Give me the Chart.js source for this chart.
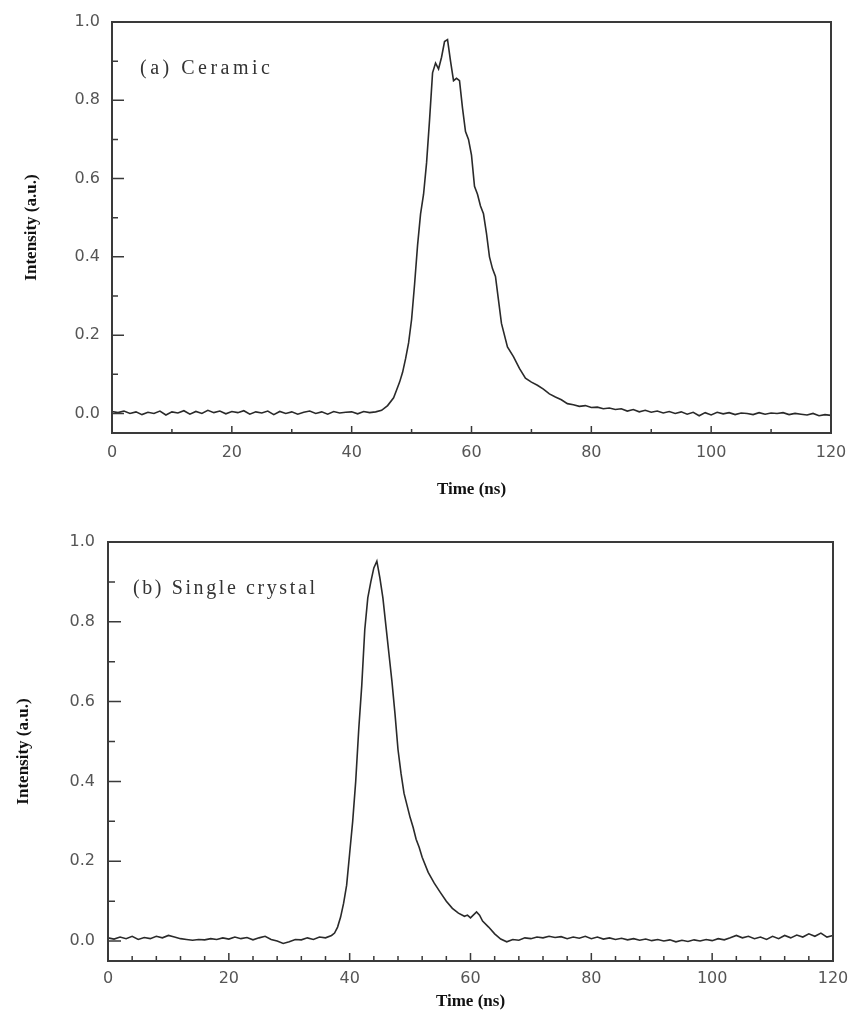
<!DOCTYPE html>
<html>
<head>
<meta charset="utf-8">
<script src="https://cdn.jsdelivr.net/npm/chart.js@4.4.1/dist/chart.umd.min.js"></script>
<style>
  html, body { margin: 0; padding: 0; background: #fff; }
  #wrap { position: relative; width: 852px; height: 1022px; overflow: hidden; }
  canvas { position: absolute; left: 0; }
</style>
</head>
<body>
<div id="wrap">
  <canvas id="cA" width="852" height="500" style="top:0px"></canvas>
  <canvas id="cB" width="852" height="522" style="top:500px"></canvas>
</div>
<script>
// ---------------- data ----------------
const labelA = "(a) Ceramic";
const labelB = "(b) Single crystal";
const xTitle = "Time (ns)";
const yTitle = "Intensity (a.u.)";

const xTickValues = [0, 20, 40, 60, 80, 100, 120];
const yTickValues = [0, 0.2, 0.4, 0.6, 0.8, 1.0];
const xMinorA = [10, 30, 50, 70, 90, 110];
const xMinorB = [4, 8, 12, 16, 24, 28, 32, 36, 44, 48, 52, 56, 64, 68, 72, 76, 84, 88, 92, 96, 104, 108, 112, 116];
const yMinor = [0.1, 0.3, 0.5, 0.7, 0.9];

// (a) Ceramic
const timeA = [
  0,1,2,3,4,5,6,7,8,9,10,11,12,13,14,15,16,17,18,19,20,21,22,23,24,25,26,27,28,29,
  30,31,32,33,34,35,36,37,38,39,40,41,42,43,44,45,46,47,47.5,48,48.5,49,49.5,50,50.5,
  51,51.5,52,52.5,53,53.5,54,54.5,55,55.5,56,56.5,57,57.5,58,58.5,59,59.5,60,60.5,61,61.5,
  62,62.5,63,63.5,64,64.5,65,66,67,68,69,70,71,72,73,74,75,76,77,78,79,80,81,82,83,84,85,
  86,87,88,89,90,91,92,93,94,95,96,97,98,99,100,101,102,103,104,105,106,107,108,109,110,
  111,112,113,114,115,116,117,118,119,120
];
const intensityA = [
  0.005,0.002,0.006,0.000,0.004,-0.003,0.003,0.000,0.006,-0.004,0.004,0.001,0.007,-0.002,0.005,0.000,0.008,0.002,0.006,-0.001,
  0.005,0.002,0.007,-0.002,0.004,0.001,0.006,-0.003,0.005,0.000,0.004,-0.002,0.003,0.006,0.000,0.004,-0.002,0.005,0.001,0.003,
  0.004,-0.001,0.005,0.002,0.004,0.008,0.020,0.040,0.060,0.080,0.105,0.140,0.180,0.240,0.330,
  0.430,0.510,0.560,0.640,0.750,0.870,0.895,0.880,0.910,0.950,0.955,0.900,0.850,0.856,0.850,0.780,0.720,0.700,0.660,0.580,0.560,0.530,
  0.510,0.460,0.400,0.370,0.350,0.290,0.230,0.170,0.145,0.115,0.090,0.080,0.072,0.062,0.050,0.042,0.035,0.025,0.022,0.018,0.020,0.015,0.016,0.012,0.014,0.010,0.012,
  0.006,0.010,0.004,0.008,0.003,0.006,0.001,0.005,0.000,0.004,-0.002,0.003,-0.006,0.002,-0.004,0.003,-0.001,0.002,-0.003,0.001,0.000,-0.003,0.002,-0.002,0.001,
  0.000,0.002,-0.003,0.000,-0.002,-0.004,0.000,-0.006,-0.003,-0.005
];

// (b) Single crystal
const timeB = [
  0,1,2,3,4,5,6,7,8,9,10,11,12,13,14,15,16,17,18,19,20,21,22,23,24,25,26,27,28,29,
  30,31,32,33,34,35,36,37,37.5,38,38.5,39,39.5,40,40.5,41,41.5,42,42.5,43,43.5,44,44.5,
  45,45.5,46,46.5,47,47.5,48,48.5,49,49.5,50,50.5,51,51.5,52,53,54,55,56,57,58,59,59.5,60,61,61.5,
  62,63,64,65,66,67,68,69,70,71,72,73,74,75,76,77,78,79,80,81,82,83,84,85,86,87,88,89,90,
  91,92,93,94,95,96,97,98,99,100,101,102,103,104,105,106,107,108,109,110,111,112,113,114,115,
  116,117,118,119,120
];
const intensityB = [
  0.008,0.005,0.010,0.006,0.012,0.004,0.009,0.006,0.012,0.008,0.014,0.010,0.006,0.004,0.002,0.004,0.003,0.006,0.004,0.008,
  0.005,0.010,0.006,0.009,0.003,0.008,0.012,0.004,0.000,-0.006,-0.002,0.004,0.003,0.008,0.004,0.010,0.008,0.014,0.020,0.035,
  0.060,0.095,0.140,0.220,0.300,0.400,0.530,0.640,0.780,0.860,0.900,0.935,0.952,
  0.910,0.860,0.790,0.720,0.650,0.570,0.480,0.420,0.370,0.340,0.310,0.285,0.255,0.235,0.210,0.172,0.145,0.122,0.100,0.082,0.070,0.062,0.065,0.058,0.073,0.065,
  0.050,0.035,0.018,0.005,-0.002,0.004,0.002,0.008,0.006,0.010,0.008,0.012,0.009,0.011,0.006,0.010,0.007,0.012,0.006,0.010,0.005,0.008,0.004,0.007,0.003,0.006,0.002,0.005,0.001,
  0.004,0.000,0.003,-0.002,0.002,-0.001,0.003,0.000,0.004,0.001,0.006,0.003,0.008,0.014,0.008,0.012,0.006,0.010,0.004,0.012,0.006,0.014,0.008,0.015,0.010,
  0.018,0.012,0.020,0.010,0.014
];

// ---------------- rendering ----------------
const INK = '#2a2a2a';
const AXIS = '#3a3a3a';
const TICKC = '#555555';

function framePlugin(cfg) {
  return {
    id: 'frame_' + cfg.id,
    afterDraw(chart) {
      const ctx = chart.ctx;
      const a = chart.chartArea;
      const xs = chart.scales.x, ys = chart.scales.y;
      ctx.save();
      ctx.strokeStyle = AXIS;
      ctx.lineWidth = 2;
      ctx.strokeRect(a.left, a.top, a.right - a.left, a.bottom - a.top);
      ctx.lineWidth = 1.5;
      ctx.beginPath();
      xTickValues.forEach(v => { const p = xs.getPixelForValue(v); ctx.moveTo(p, a.bottom); ctx.lineTo(p, a.bottom - cfg.xMajor); });
      cfg.xMinor.forEach(v => { const p = xs.getPixelForValue(v); ctx.moveTo(p, a.bottom); ctx.lineTo(p, a.bottom - cfg.xMin); });
      yTickValues.forEach(v => { const p = ys.getPixelForValue(v); ctx.moveTo(a.left, p); ctx.lineTo(a.left + cfg.yMajor, p); });
      yMinor.forEach(v => { const p = ys.getPixelForValue(v); ctx.moveTo(a.left, p); ctx.lineTo(a.left + cfg.yMin, p); });
      ctx.stroke();
      // panel label
      ctx.fillStyle = '#333';
      ctx.font = cfg.labelFont;
      try { ctx.letterSpacing = cfg.labelSpacing; } catch (e) {}
      ctx.textBaseline = 'middle';
      ctx.textAlign = 'left';
      ctx.fillText(cfg.label, cfg.labelX, cfg.labelY);
      ctx.restore();
    }
  };
}

function makeChart(canvasId, cfg) {
  const pts = cfg.t.map((t, i) => ({ x: t, y: cfg.v[i] }));
  return new Chart(document.getElementById(canvasId), {
    type: 'line',
    data: { datasets: [{ data: pts, borderColor: INK, borderWidth: 1.6, pointRadius: 0, tension: 0, fill: false }] },
    options: {
      responsive: false,
      animation: false,
      events: [],
      layout: { padding: { top: cfg.padTop, right: cfg.padRight, left: 0, bottom: 0 } },
      plugins: { legend: { display: false }, title: { display: false }, tooltip: { enabled: false } },
      scales: {
        x: {
          type: 'linear', min: 0, max: 120,
          grid: { display: false, drawTicks: false },
          border: { display: false },
          afterBuildTicks: s => { s.ticks = xTickValues.map(v => ({ value: v })); },
          afterFit: s => { s.height = cfg.xHeight; s.paddingLeft = 0; s.paddingRight = 0; },
          ticks: { color: TICKC, padding: cfg.xTickPad, font: { family: 'DejaVu Sans', size: 16 }, callback: v => String(v), maxRotation: 0, autoSkip: false },
          title: { display: true, text: xTitle, color: '#111', padding: { top: 0, bottom: cfg.xTitlePad }, font: { family: 'Liberation Serif', size: 17, weight: 'bold' } }
        },
        y: {
          type: 'linear', min: -0.05, max: 1.0,
          grid: { display: false, drawTicks: false },
          border: { display: false },
          afterBuildTicks: s => { s.ticks = yTickValues.map(v => ({ value: v })); },
          afterFit: s => { s.width = cfg.yWidth; s.paddingTop = 0; s.paddingBottom = 0; },
          ticks: { color: TICKC, padding: cfg.yTickPad, font: { family: 'DejaVu Sans', size: 16 }, callback: v => Number(v).toFixed(1), autoSkip: false },
          title: { display: true, text: yTitle, color: '#111', padding: { top: cfg.yTitlePad, bottom: 0 }, font: { family: 'Liberation Serif', size: 17, weight: 'bold' } }
        }
      }
    },
    plugins: [framePlugin(cfg)]
  });
}

makeChart('cA', {
  id: 'a', t: timeA, v: intensityA,
  padTop: 22, padRight: 21, xHeight: 67, yWidth: 112,
  xTickPad: 10, xTitlePad: 0, yTickPad: 12, yTitlePad: 21,
  xMinor: xMinorA, xMajor: 7, xMin: 4, yMajor: 12, yMin: 6,
  label: labelA, labelFont: '20px "Liberation Serif"', labelSpacing: '3.5px', labelX: 140, labelY: 69
});

makeChart('cB', {
  id: 'b', t: timeB, v: intensityB,
  padTop: 42, padRight: 19, xHeight: 61, yWidth: 108,
  xTickPad: 8, xTitlePad: 10, yTickPad: 13, yTitlePad: 13,
  xMinor: xMinorB, xMajor: 8, xMin: 5, yMajor: 13, yMin: 7,
  label: labelB, labelFont: '20px "Liberation Serif"', labelSpacing: '2.6px', labelX: 133, labelY: 89
});
</script>
</body>
</html>
